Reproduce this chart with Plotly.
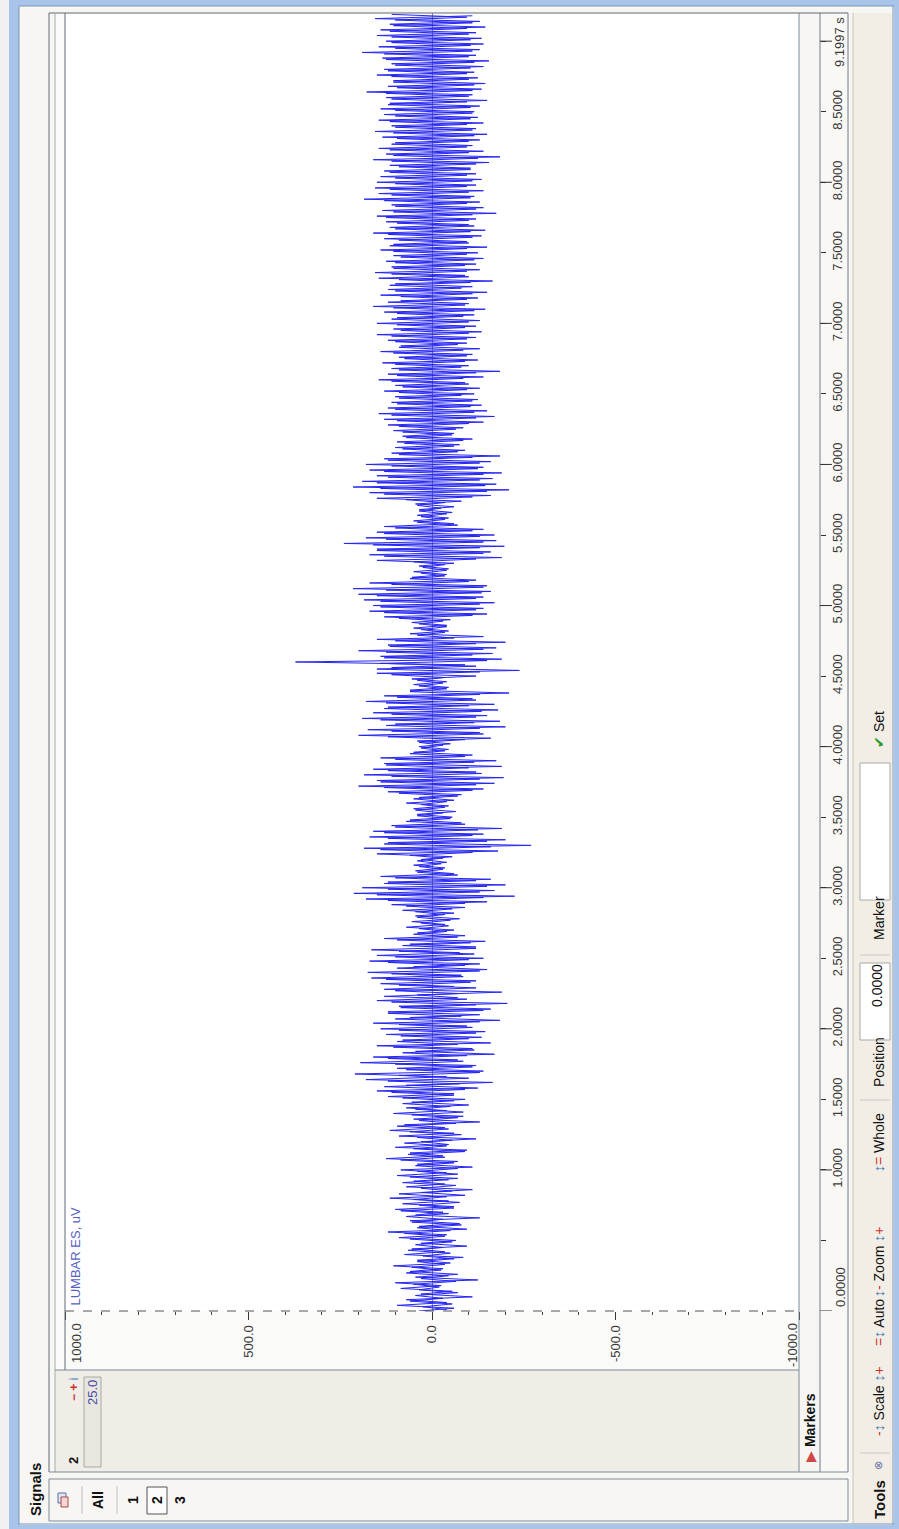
import plotly.graph_objects as go

W, H = 899, 1529

# ---------------- data ----------------
SAMPLE_DT = 0.02  # seconds between samples of each list
# peak excursions (uV), sampled at 0, 0.02, 0.04 ... s
emg_uv = [
    # 0.0 - 0.5 s
    35, -60, 95, -40, 70, -110, 30, -55, 85, -25, 100, -125, 45, -70, 60, -30, 105, -50, 40, -85, 75, -35, 55, -95, 30,
    # 0.5 - 1.0 s
    -65, 90, -40, 120, -95, 35, -75, 60, -130, 45, -30, 100, -60, 80, -45, 115, -90, 30, -110, 70, -35, 50, -70, 95, -40,
    # 1.0 - 1.5 s
    85, -110, 40, -70, 125, -30, 60, -95, 100, -45, 30, -120, 90, -60, 115, -35, 75, -130, 50, -85, 105, -40, 70, -100, 55,
    # 1.5 - 2.0 s
    -90, 120, -60, 150, -125, 70, -165, 180, -40, 210, -140, 95, -120, 195, -70, 160, -170, 45, -110, 150, -160, 80, -135, 125, -145,
    # 2.0 - 2.5 s
    140, -95, 160, -185, 60, -130, 120, -160, 90, -205, 150, -70, 40, -190, 130, -60, 140, -120, 165, -80, 175, -150, 50, -130, 170,
    # 2.5 - 3.0 s
    -140, 150, -75, 165, -120, 60, -145, 130, -90, 40, -60, 70, -35, 55, -75, 45, -60, 80, -90, 110, -150, 180, -225, 213, -170,
    # 3.0 - 3.5 s
    190, -200, 120, -160, 140, -60, 45, -35, 50, -40, 30, -55, 150, -180, 185, -270, 120, -200, 170, -140, 160, -190, 110, -80, 60,
    # 3.5 - 4.0 s
    -55, 40, -65, 50, -45, 70, -60, 35, -80, 120, -140, 200, -170, 150, -195, 185, -120, 160, -190, 130, -175, 140, -110, 50, -45,
    # 4.0 - 4.5 s
    35, -50, 40, -160, 200, -130, 175, -200, 100, -185, 190, -150, 160, -180, 120, -170, 180, -110, 130, -210, 60, -45, 50, -40, 55,
    # 4.5 - 5.0 s
    -120, 150, -238, 110, -90, 372, -190, 140, -165, 200, -175, 120, -200, 150, -140, 60, -45, 50, -40, 55, -50, 130, -150, 170, -140,
    # 5.0 - 5.5 s
    160, -170, 185, -140, 200, -160, 215, -150, 170, -120, 55, -40, 50, -45, 35, -60, 150, -190, 170, -160, 150, -197, 240, -175, 180,
    # 5.5 - 6.0 s
    -170, 150, -140, 130, -60, 50, -45, 40, -55, 35, -60, 45, -80, 150, -160, 170, -210, 215, -175, 190, -165, 150, -190, 170, -140,
    # 6.0 - 6.5 s
    180, -160, 130, -185, 110, -90, 100, -75, 95, -110, 80, -60, 105, -85, 120, -140, 130, -170, 145, -150, 120, -135, 110, -125, 100,
    # 6.5 - 7.0 s
    -115, 130, -130, 100, -90, 145, -140, 120, -185, 110, -100, 135, -125, 90, -110, 140, -130, 85, -95, 120, -120, 150, -135, 105, -120,
    # 7.0 - 7.5 s
    150, -130, 95, -115, 130, -145, 160, -100, 85, -125, 140, -150, 120, -110, 100, -165, 145, -90, 155, -130, 110, -120, 125, -140, 105,
    # 7.5 - 8.0 s
    -125, 140, -150, 105, -95, 130, -135, 160, -145, 115, -100, 125, -120, 150, -175, 135, -140, 110, -130, 185, -115, 145, -140, 155, -120,
    # 8.0 - 8.5 s
    150, -135, 140, -120, 130, -105, 115, -155, 160, -185, 125, -140, 145, -110, 100, -130, 135, -150, 155, -120, 110, -140, 145, -125, 130,
    # 8.5 - 9.0 s
    -115, 140, -130, 115, -150, 125, -110, 178, -135, 120, -145, 105, -125, 150, -115, 130, -140, 110, -155, 135, -120, 190, -130, 145, -140,
    # 9.0 - 9.2 s
    125, -135, 150, -120, 140, -145, 115, -130, 155, -110,
]
# core samples (uV), sampled at 0.01, 0.03, 0.05 ... s
emg_core_uv = [
    -40, 25, -55, 60, -30, 45, -70, 35, -20, 50, -65, 30, -45, 70, -25, 55, -35, 40, -60, 25, -50, 65, -30, 45, -55,
    60, -35, 75, -50, 40, -80, 55, -30, 70, -45, 85, -60, 35, -75, 50, -40, 90, -55, 30, -65, 80, -45, 60, -70, 40,
    -70, 45, -60, 85, -35, 65, -90, 50, -40, 75, -55, 40, -80, 60, -45, 95, -65, 35, -70, 55, -85, 45, -50, 80, -60,
    80, -60, 110, -90, 130, -75, 120, -100, 90, -130, 70, -110, 100, -85, 120, -95, 80, -115, 105, -70, 95, -100, 85, -120, 90,
    -110, 90, -130, 100, -80, 120, -140, 85, -120, 110, -95, 130, -75, 100, -120, 90, -105, 125, -85, 110, -130, 95, -90, 120, -100,
    100, -115, 90, -120, 80, -105, 95, -70, 50, -40, 35, -45, 30, -50, 40, -35, 45, -55, 70, -90, 120, -140, 150, -130, 120,
    -150, 130, -120, 100, -70, 40, -30, 35, -25, 40, -30, 60, -110, 140, -160, 130, -150, 120, -110, 130, -125, 100, -90, 70, -50,
    40, -30, 45, -35, 30, -40, 50, -70, 90, -110, 130, -120, 140, -130, 110, -135, 120, -100, 125, -115, 100, -90, 60, -35, 30,
    -30, 35, -90, 120, -140, 110, -130, 125, -115, 140, -120, 110, -135, 130, -100, 125, -120, 95, -130, 60, -40, 35, -30, 40, -35,
    110, -130, 150, -120, 140, -150, 130, -110, 125, -140, 115, -120, 100, -60, 40, -35, 30, -40, 35, -30, 90, -110, 130, -120, 140,
    -130, 140, -120, 150, -135, 125, -140, 110, -100, 60, -35, 30, -40, 25, -35, 50, -120, 130, -140, 150, -130, 160, -140, 125, -130,
    130, -110, 100, -70, 40, -35, 30, -40, 35, -25, 40, -35, 70, -110, 130, -150, 140, -145, 150, -130, 120, -140, 130, -125, 110,
    -130, 120, -110, 90, -70, 80, -60, 75, -85, 70, -55, 80, -65, 90, -100, 95, -120, 110, -115, 100, -105, 95, -110, 90, -80,
    90, -95, 80, -100, 110, -85, 95, -120, 90, -80, 100, -90, 75, -95, 105, -85, 90, -70, 100, -95, 110, -100, 85, -90, 95,
    -100, 110, -85, 95, -115, 105, -90, 120, -95, 85, -110, 100, -80, 115, -105, 90, -100, 110, -95, 105, -90, 100, -115, 85, -95,
    105, -95, 115, -100, 90, -110, 120, -105, 100, -115, 95, -100, 125, -110, 105, -120, 100, -95, 130, -105, 110, -100, 115, -95, 100,
    -110, 100, -95, 115, -105, 90, -120, 110, -125, 105, -100, 115, -95, 110, -100, 95, -115, 105, -110, 100, -95, 115, -105, 100, -110,
    100, -105, 120, -95, 110, -100, 125, -110, 95, -115, 105, -100, 110, -95, 120, -105, 100, -115, 125, -100, 130, -110, 100, -105, 110,
    -105, 110, -100, 115, -95, 105, -110, 100, -95, 110,
]
time_s = [round(i * SAMPLE_DT, 4) for i in range(len(emg_uv))]
time_core_s = [round(i * SAMPLE_DT + SAMPLE_DT / 2, 4) for i in range(len(emg_core_uv))]

amp_ticks = [1000, 500, 0, -500, -1000]
amp_labels = ["", "500.0", "0.0", "-500.0", ""]
amp_minor = [900, 800, 700, 600, 400, 300, 200, 100, -100, -200, -300, -400, -600, -700, -800, -900]
time_ticks = [0.5, 1.0, 1.5, 2.0, 2.5, 3.0, 3.5, 4.0, 4.5, 5.0, 5.5, 6.0, 6.5, 7.0, 7.5, 8.0, 8.5, 9.0]
time_labels = ["", "1.0000", "1.5000", "2.0000", "2.5000", "3.0000", "3.5000", "4.0000", "4.5000",
               "5.0000", "5.5000", "6.0000", "6.5000", "7.0000", "7.5000", "8.0000", "8.5000", ""]
time_long_ticks = [0, 1, 2, 3, 4, 5, 6, 7, 8, 9]
T_END = 9.1997

FONT = "Liberation Sans, Arial, sans-serif"


def X(x):
    return x / W


def Y(y):
    return 1 - y / H


shapes = []


def rect(x0, y0, x1, y1, fill, line=None, lw=1):
    shapes.append(dict(type="rect", xref="paper", yref="paper",
                       x0=X(x0), x1=X(x1), y0=Y(y1), y1=Y(y0),
                       fillcolor=fill,
                       line=dict(color=line if line else fill, width=lw if line else 0),
                       layer="below"))


def seg(x0, y0, x1, y1, color, w=1, dash="solid"):
    shapes.append(dict(type="line", xref="paper", yref="paper",
                       x0=X(x0), y0=Y(y0), x1=X(x1), y1=Y(y1),
                       line=dict(color=color, width=w, dash=dash), layer="above"))


# window frame & panels
rect(0, 0, 9, H, "#f1f1f1")
rect(9, 0, W, 6, "#a8c4e9")
rect(9, 0, 19, H, "#a8c4e9")
rect(894, 0, W, H, "#a8c4e9")
rect(9, 1525, W, H, "#a8c4e9")
rect(20, 7, 893, 1524, "#f7f6f2")
rect(65, 13, 799, 1311, "#ffffff")
rect(853, 13, 893, 1524, "#f2eee5")
rect(55, 13, 65, 1370, "#fbfbfa")
rect(65, 1311, 799, 1370, "#fafaf8")
rect(55, 1370, 799, 1472, "#efede6")
rect(799, 1311, 820, 1472, "#f6f5f1")
rect(820, 13, 848, 1472, "#f9f8f5")
rect(49, 1479, 848, 1521, "#f7f6f2")
# toolbar boxes
rect(860, 963, 890, 1040, "#ffffff", "#a8a8a8")
rect(860, 763, 890, 900, "#ffffff", "#a8a8a8")
# "25.0" box
rect(84, 1377, 101, 1467, "#e8e6df", "#a9a9a9")
# channel icon + selected "2" box
rect(58, 1493, 66, 1503, "#dfe6f3", "#5570a8")
rect(61, 1497, 68, 1507, "#f4d6d6", "#b04848")
rect(147, 1487, 167, 1514, "#fbfbfb", "#555555")

# borders
seg(19, 6, 19, 1525, "#7d95b8")
seg(19, 6, 894, 6, "#7d95b8")
seg(893, 6, 893, 1525, "#7d95b8")
seg(19, 1524, 894, 1524, "#7d95b8")
seg(49, 13, 848, 13, "#5f6b78")
seg(49, 13, 49, 1472, "#5f6b78")
seg(55, 13, 55, 1472, "#9fb0aa")
seg(65, 13, 65, 1370, "#5f6b78")
seg(799, 13, 799, 1472, "#7d8b99")
seg(820, 13, 820, 1472, "#6f7d8b")
seg(848, 13, 848, 1472, "#6f7d8b")
seg(853, 13, 853, 1524, "#c4c4c0")
seg(55, 1370, 799, 1370, "#7d8b99")
seg(49, 1472, 848, 1472, "#7d8b99")
seg(49, 1479, 848, 1479, "#7d8b99")
seg(49, 1521, 848, 1521, "#7d8b99")
seg(49, 1479, 49, 1521, "#7d8b99")
seg(848, 1479, 848, 1521, "#7d8b99")
seg(65, 1311, 799, 1311, "#555555", 1, "dash")
# separators
seg(860, 1453, 890, 1453, "#c8c8c4")
seg(860, 1100, 890, 1100, "#c8c8c4")
seg(860, 955, 890, 955, "#c8c8c4")
seg(82, 1486, 82, 1514, "#c0c0c0")
seg(117, 1486, 117, 1514, "#c0c0c0")

# long time ticks (integer seconds), placed through the y scale
for t in time_long_ticks:
    shapes.append(dict(type="line", xref="paper", yref="y", x0=X(820), x1=X(832), y0=t, y1=t,
                       line=dict(color="#333333", width=1), layer="above"))

annotations = []


def ann(x, y, text, size=13, color="#222222", xanchor="center", yanchor="middle", angle=-90):
    annotations.append(dict(x=X(x), y=Y(y), xref="paper", yref="paper", text=text, showarrow=False,
                            textangle=angle, xanchor=xanchor, yanchor=yanchor,
                            font=dict(family=FONT, size=size, color=color)))


RED = "#cc3333"
BLU = "#3a78b5"
ann(35, 1490, "<b>Signals</b>", 15, "#111111")
ann(75, 1308, "LUMBAR ES, uV", 13, "#5560c0", yanchor="bottom")
ann(76, 1321, "1000.0", 13, "#3a3a3a", yanchor="top")
ann(792, 1321, "-1000.0", 13, "#3a3a3a", yanchor="top")
ann(840, 1287, "0.0000", 13, "#3a3a3a")
ann(840, 42, "9.1997 s", 13, "#3a3a3a")
ann(73, 1461, "<b>2</b>", 13, "#111111")
ann(74, 1390, f"<b><span style='color:{RED}'>−</span> <span style='color:{RED}'>+</span></b> <span style='color:{BLU}'>i</span>", 12)
ann(92, 1393, "25.0", 13, "#4a4aa8")
ann(810, 1428, f"<span style='color:#d04848'>▶</span> <b>Markers</b>", 14, "#111111")
ann(98, 1500, "<b>All</b>", 14, "#111111")
ann(133, 1500, "<b>1</b>", 14, "#111111")
ann(157, 1500, "<b>2</b>", 14, "#111111")
ann(180, 1500, "<b>3</b>", 14, "#111111")
# toolbar
ann(879, 1500, "<b>Tools</b>", 15, "#111111")
ann(878, 1466, "⊗", 11, "#6a70a8")
ann(879, 1401, f"<span style='color:{RED}'>-</span><span style='color:{BLU}'>↕</span> Scale <span style='color:{BLU}'>↕</span><span style='color:{RED}'>+</span>", 14, "#111111")
ann(879, 1323, f"<span style='color:{RED}'>=</span><span style='color:{BLU}'>↕</span> Auto", 14, "#111111")
ann(879, 1262, f"<span style='color:{BLU}'>↕</span><span style='color:{RED}'>-</span> Zoom <span style='color:{BLU}'>↕</span><span style='color:{RED}'>+</span>", 14, "#111111")
ann(879, 1143, f"<span style='color:{BLU}'>↕</span><span style='color:{RED}'>=</span> Whole", 14, "#111111")
ann(879, 1062, "Position", 14, "#111111")
ann(877, 986, "0.0000", 14, "#111111")
ann(879, 918, "Marker", 14, "#111111")
ann(879, 730, "<span style='color:#2e9a2e'>✔</span> Set", 14, "#111111")

fig = go.Figure()
fig.add_trace(go.Scatter(x=emg_core_uv, y=time_core_s, mode="lines",
                         line=dict(color="#2626f2", width=1), hoverinfo="skip", showlegend=False))
fig.add_trace(go.Scatter(x=emg_uv, y=time_s, mode="lines",
                         line=dict(color="#2626f2", width=1), hoverinfo="skip", showlegend=False))

fig.update_layout(
    width=W, height=H,
    margin=dict(l=0, r=0, t=0, b=0),
    paper_bgcolor="#f7f6f2",
    plot_bgcolor="#ffffff",
    showlegend=False,
    hovermode=False,
    shapes=shapes,
    annotations=annotations,
    xaxis=dict(
        domain=[X(65), X(799)], range=[1000, -1000], anchor="y",
        tickmode="array", tickvals=amp_ticks, ticktext=amp_labels,
        ticks="outside", ticklen=8, tickcolor="#333333", tickwidth=1,
        tickangle=-90, tickfont=dict(family=FONT, size=13, color="#3a3a3a"),
        minor=dict(tickvals=amp_minor, ticks="outside", ticklen=3, tickcolor="#444444"),
        showgrid=False, showline=False,
        zeroline=True, zerolinecolor="#8a8a8a", zerolinewidth=1,
    ),
    yaxis=dict(
        domain=[Y(1311), Y(13)], range=[0, T_END],
        anchor="free", position=X(820), side="right",
        tickmode="array", tickvals=time_ticks, ticktext=time_labels,
        ticks="outside", ticklen=5, tickcolor="#333333", tickwidth=1,
        tickangle=-90, tickfont=dict(family=FONT, size=13, color="#3a3a3a"),
        showgrid=False, showline=False, zeroline=False,
    ),
)

fig.write_html("out.html", config={"displayModeBar": False},
               post_script="document.body.style.margin='0px';document.body.style.overflow='hidden';")
